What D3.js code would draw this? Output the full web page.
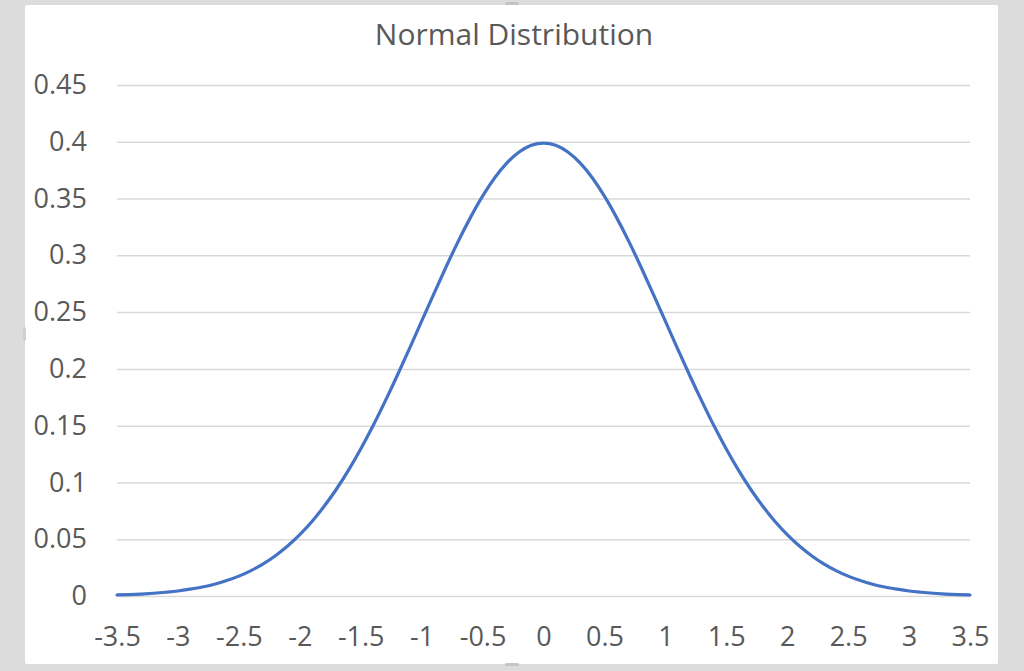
<!DOCTYPE html>
<html>
<head>
<meta charset="utf-8">
<script src="https://cdn.jsdelivr.net/npm/d3@7"></script>
<style>
  html, body { margin: 0; padding: 0; background: #dcdcdc; }
  svg { display: block; }
</style>
</head>
<body>
<div id="chart"></div>
<script>
// values
const xValues = [
  -3.5, -3.4, -3.3, -3.2, -3.1, -3.0, -2.9, -2.8, -2.7, -2.6,
  -2.5, -2.4, -2.3, -2.2, -2.1, -2.0, -1.9, -1.8, -1.7, -1.6,
  -1.5, -1.4, -1.3, -1.2, -1.1, -1.0, -0.9, -0.8, -0.7, -0.6,
  -0.5, -0.4, -0.3, -0.2, -0.1, 0.0, 0.1, 0.2, 0.3, 0.4,
  0.5, 0.6, 0.7, 0.8, 0.9, 1.0, 1.1, 1.2, 1.3, 1.4,
  1.5, 1.6, 1.7, 1.8, 1.9, 2.0, 2.1, 2.2, 2.3, 2.4,
  2.5, 2.6, 2.7, 2.8, 2.9, 3.0, 3.1, 3.2, 3.3, 3.4, 3.5
];
const density = [
  0.0009, 0.0012, 0.0017, 0.0024, 0.0033, 0.0044, 0.0060, 0.0079, 0.0104, 0.0136,
  0.0175, 0.0224, 0.0283, 0.0355, 0.0440, 0.0540, 0.0656, 0.0790, 0.0940, 0.1109,
  0.1295, 0.1497, 0.1714, 0.1942, 0.2179, 0.2420, 0.2661, 0.2897, 0.3123, 0.3332,
  0.3521, 0.3683, 0.3814, 0.3910, 0.3970, 0.3989, 0.3970, 0.3910, 0.3814, 0.3683,
  0.3521, 0.3332, 0.3123, 0.2897, 0.2661, 0.2420, 0.2179, 0.1942, 0.1714, 0.1497,
  0.1295, 0.1109, 0.0940, 0.0790, 0.0656, 0.0540, 0.0440, 0.0355, 0.0283, 0.0224,
  0.0175, 0.0136, 0.0104, 0.0079, 0.0060, 0.0044, 0.0033, 0.0024, 0.0017, 0.0012, 0.0009
];
const xTicks = [-3.5, -3, -2.5, -2, -1.5, -1, -0.5, 0, 0.5, 1, 1.5, 2, 2.5, 3, 3.5];
const yTicks = [0, 0.05, 0.1, 0.15, 0.2, 0.25, 0.3, 0.35, 0.4, 0.45];
const chartTitle = "Normal Distribution";

const width = 1024, height = 671;
const margin = { top: 85, right: 54, bottom: 75, left: 117 };
const plotW = width - margin.left - margin.right;
const plotH = height - margin.top - margin.bottom;
const labelFont = "'Open Sans', sans-serif";

const svg = d3.select("#chart").append("svg")
    .attr("width", width)
    .attr("height", height);

// grey backdrop + white chart panel
svg.append("rect").attr("width", width).attr("height", height).attr("fill", "#dcdcdc");
svg.append("rect")
    .attr("x", 25).attr("y", 5)
    .attr("width", 973).attr("height", 659)
    .attr("rx", 2)
    .attr("fill", "#ffffff");

// little selection handles on the panel edges
svg.append("rect").attr("x", 505).attr("y", 2).attr("width", 14).attr("height", 3).attr("rx", 1.5).attr("fill", "#c4c4c4");
svg.append("rect").attr("x", 505).attr("y", 663).attr("width", 14).attr("height", 3).attr("rx", 1.5).attr("fill", "#c4c4c4");
svg.append("rect").attr("x", 23).attr("y", 327).attr("width", 3).attr("height", 14).attr("rx", 1.5).attr("fill", "#d0d0d0");

const x = d3.scaleLinear().domain([-3.5, 3.5]).range([0, plotW]);
const y = d3.scaleLinear().domain([0, 0.45]).range([plotH, 0]);

const g = svg.append("g")
    .attr("transform", `translate(${margin.left},${margin.top})`);

// horizontal gridlines
g.append("g")
    .call(d3.axisLeft(y).tickValues(yTicks).tickSize(-plotW).tickFormat(""))
    .call(a => a.select(".domain").remove())
    .call(a => a.selectAll("line").attr("stroke", "#d9d9d9").attr("stroke-width", 1.5));

// y labels
g.append("g")
    .call(d3.axisLeft(y).tickValues(yTicks).tickSize(0).tickPadding(30).tickFormat(d => String(+d.toFixed(2))))
    .call(a => a.select(".domain").remove())
    .call(a => a.selectAll("text")
        .attr("fill", "#595959")
        .style("font-family", labelFont)
        .style("font-size", "27px"));

// x labels
g.append("g")
    .attr("transform", `translate(0,${plotH})`)
    .call(d3.axisBottom(x).tickValues(xTicks).tickSize(0).tickPadding(31).tickFormat(d => String(d)))
    .call(a => a.select(".domain").remove())
    .call(a => a.selectAll("text")
        .attr("fill", "#595959")
        .style("font-family", labelFont)
        .style("font-size", "27px"));

// curve
const line = d3.line()
    .x((d, i) => x(xValues[i]))
    .y(d => y(d))
    .curve(d3.curveMonotoneX);

g.append("path")
    .datum(density)
    .attr("fill", "none")
    .attr("stroke", "#4472c4")
    .attr("stroke-width", 3.2)
    .attr("stroke-linejoin", "round")
    .attr("stroke-linecap", "round")
    .attr("d", line);

// title
svg.append("text")
    .attr("x", 514)
    .attr("y", 45)
    .attr("text-anchor", "middle")
    .attr("fill", "#595959")
    .style("font-family", labelFont)
    .style("font-size", "30px")
    .text(chartTitle);
</script>
</body>
</html>
